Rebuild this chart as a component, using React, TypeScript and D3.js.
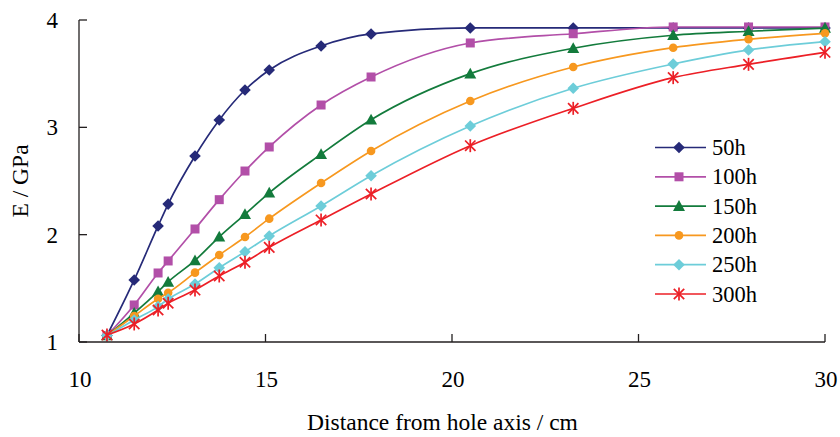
import React from "react";
import * as d3 from "d3";

const xValues = [10.75, 11.48, 12.12, 12.39, 13.11, 13.76, 14.45, 15.1, 16.49, 17.83, 20.49, 23.25, 25.93, 27.95, 30.0];
const seriesNames = ["50h", "100h", "150h", "200h", "250h", "300h"];
const e50 = [1.06, 1.578, 2.081, 2.285, 2.733, 3.069, 3.348, 3.534, 3.758, 3.87, 3.926, 3.926, 3.926, 3.926, 3.926];
const e100 = [1.06, 1.345, 1.643, 1.755, 2.053, 2.326, 2.593, 2.817, 3.208, 3.469, 3.786, 3.872, 3.935, 3.935, 3.935];
const e150 = [1.06, 1.27, 1.47, 1.56, 1.76, 1.98, 2.19, 2.39, 2.75, 3.07, 3.5, 3.737, 3.858, 3.895, 3.925];
const e200 = [1.06, 1.242, 1.403, 1.459, 1.646, 1.811, 1.978, 2.149, 2.481, 2.78, 3.245, 3.562, 3.742, 3.82, 3.876];
const e250 = [1.06, 1.205, 1.33, 1.4, 1.54, 1.692, 1.841, 1.988, 2.267, 2.549, 3.012, 3.364, 3.59, 3.721, 3.798];
const e300 = [1.065, 1.168, 1.298, 1.361, 1.484, 1.615, 1.743, 1.882, 2.137, 2.379, 2.829, 3.177, 3.463, 3.587, 3.699];
const allSeries = [e50, e100, e150, e200, e250, e300];
const colors = ["#262a78", "#b24fa8", "#137b3c", "#f7981f", "#6dcdd9", "#ec1f26"];
const markers = ["diamond", "square", "triangle", "circle", "diamond", "star"];
const xTicks = [10, 15, 20, 25, 30];
const yTicks = [1, 2, 3, 4];

const AXIS = "#231f20";
const txt = { fontFamily: '"Liberation Serif"' };

function Marker({ type, x, y, color }: { type: string; x: number; y: number; color: string }) {
  if (type === "diamond") {
    const r = 5.8;
    return <path d={`M${x},${y - r}L${x + r},${y}L${x},${y + r}L${x - r},${y}Z`} fill={color} />;
  }
  if (type === "square") {
    const s = 4.5;
    return <rect x={x - s} y={y - s} width={2 * s} height={2 * s} fill={color} />;
  }
  if (type === "triangle") {
    const r = 6;
    return <path d={`M${x},${y - r}L${x + r},${y + r * 0.8}L${x - r},${y + r * 0.8}Z`} fill={color} />;
  }
  if (type === "circle") {
    return <circle cx={x} cy={y} r={4.3} fill={color} />;
  }
  const r = 6.5;
  const a = r * 0.8;
  return (
    <g stroke={color} strokeWidth={1.7}>
      <line x1={x} y1={y - r} x2={x} y2={y + r} />
      <line x1={x - a} y1={y - a} x2={x + a} y2={y + a} />
      <line x1={x - a} y1={y + a} x2={x + a} y2={y - a} />
    </g>
  );
}

export default function App() {
  const x = d3.scaleLinear().domain([10, 30]).range([79, 825]);
  const y = d3.scaleLinear().domain([1, 4]).range([342, 20]);
  const line = d3
    .line<number>()
    .x((_, i) => x(xValues[i]))
    .y((d) => y(d))
    .curve(d3.curveMonotoneX);

  const legendX = 655;
  const legendY0 = 147.5;
  const legendStep = 29.3;

  return (
    <svg width={840} height={437} style={{ position: "absolute", left: 0, top: 0 }}>
      <rect width={840} height={437} fill="#fff" />
      {allSeries.map((s, si) => (
        <g key={seriesNames[si]}>
          <path d={line(s) || ""} fill="none" stroke={colors[si]} strokeWidth={1.7} />
          {s.map((v, i) => (
            <Marker key={i} type={markers[si]} x={x(xValues[i])} y={y(v)} color={colors[si]} />
          ))}
        </g>
      ))}
      <line x1={x(10)} y1={y(1)} x2={x(30)} y2={y(1)} stroke={AXIS} strokeWidth={1.3} />
      <line x1={x(10)} y1={y(1)} x2={x(10)} y2={y(4)} stroke={AXIS} strokeWidth={1.3} />
      {xTicks.map((t) => (
        <g key={"xt" + t}>
          <line x1={x(t)} y1={y(1)} x2={x(t)} y2={y(1) - 8} stroke={AXIS} strokeWidth={1.3} />
          <text x={x(t) + 1} y={386.5} textAnchor="middle" fontSize={23} fill="#000" style={txt}>
            {t}
          </text>
        </g>
      ))}
      {yTicks.map((t) => (
        <g key={"yt" + t}>
          <line x1={x(10)} y1={y(t)} x2={x(10) + 8} y2={y(t)} stroke={AXIS} strokeWidth={1.3} />
          <text x={58} y={y(t) + 8} textAnchor="end" fontSize={23} fill="#000" style={txt}>
            {t}
          </text>
        </g>
      ))}
      <text x={442.5} y={430} textAnchor="middle" fontSize={23.5} fill="#000" style={txt}>
        Distance from hole axis / cm
      </text>
      <text transform="translate(27.5,181) rotate(-90)" textAnchor="middle" fontSize={23.5} fill="#000" style={txt}>
        E / GPa
      </text>
      {seriesNames.map((n, i) => {
        const ly = legendY0 + i * legendStep;
        return (
          <g key={"lg" + n}>
            <line x1={legendX} y1={ly} x2={legendX + 51} y2={ly} stroke={colors[i]} strokeWidth={1.7} />
            <Marker type={markers[i]} x={legendX + 24} y={ly} color={colors[i]} />
            <text x={legendX + 57} y={ly + 7.5} fontSize={22.5} fill="#000" style={txt}>
              {n}
            </text>
          </g>
        );
      })}
    </svg>
  );
}
